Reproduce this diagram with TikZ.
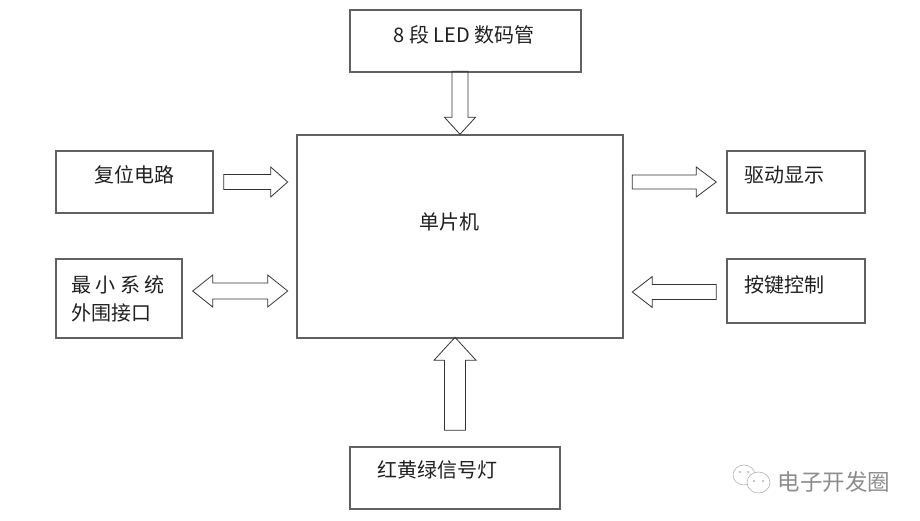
\documentclass[tikz,border=0pt]{standalone}
\usepackage{fontspec}
\setmainfont{Noto Sans CJK SC}
\usetikzlibrary{calc}
\tikzset{
	hop/.style={draw=black!62, line width=1.4pt, inner sep=0pt},
	chu/.style={text=black!88, inner sep=0pt},
	muiten/.style={draw=black!80, line width=0.8pt, line join=miter}
}
%Mũi tên khối: đuôi, góc, dài, nửa thân, nửa đầu, dài đầu
\newcommand{\muiten}[6]{\draw[muiten, shift={#1}, rotate=#2] (0,-#4) -- ({#3-#6},-#4) -- ({#3-#6},-#5) -- (#3,0) -- ({#3-#6},#5) -- ({#3-#6},#4) -- (0,#4) -- cycle;}
\begin{document}
\begin{tikzpicture}[x=1pt, y=1pt, font=\fontsize{20}{28}\selectfont]
	\useasboundingbox (0,0) rectangle (920,520);
	%Các khối
	\node[hop, minimum width=231pt, minimum height=62pt] (led) at (465.5,479) {};
	\node[hop, minimum width=326pt, minimum height=203pt] (mcu) at (460,283.5) {};
	\node[hop, minimum width=157pt, minimum height=62pt] (reset) at (134.5,338) {};
	\node[hop, minimum width=126pt, minimum height=79pt] (iface) at (119,221.5) {};
	\node[hop, minimum width=138pt, minimum height=62pt] (drive) at (796,338) {};
	\node[hop, minimum width=138pt, minimum height=64pt] (keys) at (796,229) {};
	\node[hop, minimum width=210pt, minimum height=62pt] (lights) at (455,42) {};
	%Chữ trong khối
	\node[chu] (tled) at (464,485) {8 段 LED 数码管};
	\node[chu] (tmcu) at (449,298) {单片机};
	\node[chu] (treset) at (134.5,345) {复位电路};
	\node[chu, align=left, anchor=west] (tiface) at (71,221) {最 小 系 统\\外围接口};
	\node[chu] (tdrive) at (784.5,345) {驱动显示};
	\node[chu] (tkeys) at (784.5,235) {按键控制};
	\node[chu] (tlights) at (437,50) {红黄绿信号灯};
	%Mũi tên
	\muiten{($(mcu.north)+(0,63)$)}{-90}{63}{8}{15.5}{17}
	\muiten{($(reset.east)+(10,0)$)}{0}{64}{7.5}{15}{17}
	\muiten{($(drive.west)+(-94,0)$)}{0}{84}{7}{15}{20}
	\muiten{($(keys.west)+(-10,-1)$)}{180}{84}{7.5}{15.5}{20}
	\muiten{($(lights.north)+(0,16)$)}{90}{93}{10.5}{21}{23}
	%Mũi tên hai chiều
	\draw[muiten, shift={($(iface.east)+(10,7.5)$)}] (0,0) -- (20,16) -- (20,8) -- (75,8) -- (75,16) -- (95,0)
	-- (75,-16) -- (75,-8) -- (20,-8) -- (20,-16) -- cycle;
	%Logo mờ
	\draw[black!30, line width=0.6pt] (744,45) ellipse (11 and 10);
	\draw[black!30, line width=0.6pt, fill=white] (758.5,37.5) ellipse (11.5 and 10.5);
	\foreach \x/\y in {740/48, 748/48, 754/39, 763/39}
	\fill[black!30] (\x,\y) circle (1.1);
	\node[text=black!45, inner sep=0pt, font=\fontsize{22.5}{26}\selectfont] (wm) at (834,38) {电子开发圈};
\end{tikzpicture}
\end{document}
